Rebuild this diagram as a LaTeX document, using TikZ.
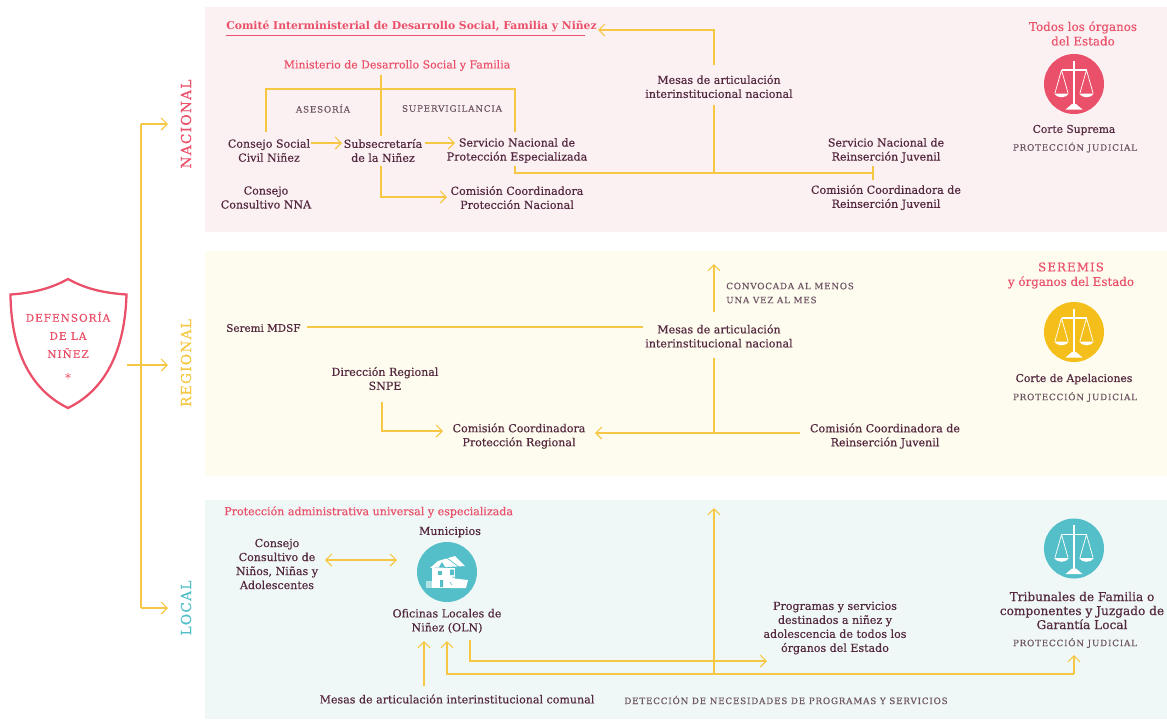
\documentclass[tikz,border=0pt]{standalone}
\usepackage{fontspec}
\usetikzlibrary{arrows.meta}
\setmainfont{DejaVu Serif}
\newfontfamily\bodyfont[FakeBold=0.4]{DejaVu Serif}
\newfontfamily\redfont[FakeBold=0.15]{DejaVu Serif}
\newfontfamily\capsfont[LetterSpace=9,FakeBold=0.15]{DejaVu Serif}
\newfontfamily\headfont[LetterSpace=9,FakeBold=0.6]{DejaVu Serif}
\definecolor{ink}{HTML}{54293F}
\definecolor{capsink}{HTML}{6E5664}
\definecolor{rojo}{HTML}{EA5069}
\definecolor{amarillo}{HTML}{F6C744}
\definecolor{celeste}{HTML}{55BFC9}
\definecolor{panelN}{HTML}{FBF0F2}
\definecolor{panelR}{HTML}{FEFBEF}
\definecolor{panelL}{HTML}{EFF8F7}
\definecolor{dorado}{HTML}{F4BE1B}
\tikzset{
  txt/.style={font=\bodyfont\fontsize{8.3}{10.5}\selectfont,text=ink,align=center,inner sep=2pt},
  rojotxt/.style={font=\redfont\fontsize{8.2}{10.5}\selectfont,text=rojo,align=center,inner sep=0pt},
  rojogrande/.style={rojotxt,font=\redfont\fontsize{8.9}{10.9}\selectfont},
  rojobold/.style={font=\bfseries\fontsize{8.1}{10.5}\selectfont,text=rojo,inner sep=0pt},
  capstxt/.style={font=\capsfont\fontsize{6.6}{10.5}\selectfont,text=capsink,align=center,inner sep=0pt},
  nivel/.style={font=\headfont\fontsize{10.3}{12}\selectfont,rotate=90,inner sep=0pt},
  link/.style={draw=amarillo,line width=0.95pt},
  flecha/.style={link,-{Straight Barb[length=4.5pt,width=9pt,line width=0.9pt]}},
  doble/.style={link,{Straight Barb[length=4.5pt,width=9pt,line width=0.9pt]}-{Straight Barb[length=4.5pt,width=9pt,line width=0.9pt]}},
  disco/.style={circle,minimum size=45pt,inner sep=0pt},
  balanza/.pic={
    \draw[white,line width=1pt] (0,-23.5)--(0,22);
    \fill[white] (-8.5,25.5) -- (8.5,25.5) -- (2,20) -- (-2,20) -- cycle;
    \draw[white,line width=1.3pt] (-12.5,-14) .. controls (-5,-14) and (5,-14) .. (12.5,-14);
    \draw[white,line width=0.55pt] (-12.5,-14)--(-19,9) (-12.5,-14)--(-6,9) (12.5,-14)--(6,9) (12.5,-14)--(19,9);
    \fill[white] (-20,9.5) .. controls (-17,14.5) and (-8,14.5) .. (-5,9.5) -- cycle;
    \fill[white] (5,9.5) .. controls (8,14.5) and (17,14.5) .. (20,9.5) -- cycle;
  },
  casa/.pic={
    \fill[white] (-9,-11) -- (8,-16) -- (18,-6) -- (-17,-4) -- cycle;
    \fill[white] (-15,-4) -- (8,-4) -- (8,16) -- (-15,16) -- cycle;
    \fill[white] (3,6) -- (21,8) -- (19,16) -- (3,16) -- cycle;
    \fill[white,opacity=.55] (-21,9) rectangle (-15,16);
    \fill[celeste] (-9,-1) rectangle (-5,3);
    \fill[celeste] (7,-2.5) rectangle (3,3) (-7,8) rectangle (-4,15);
    \fill[celeste] (-8,-5) -- (-5,-10) -- (-2,-5) -- cycle;
    \draw[celeste,line width=.5pt] (0,-14) -- (12,-5) (5,5) -- (20,7) (3,10) -- (5,13);
  }
}
\begin{document}
\begin{tikzpicture}[x=0.75pt,y=-0.75pt]
\useasboundingbox (0,0) rectangle (1167,719);
% panels
\fill[panelN] (205,7) rectangle (1167,232);
\fill[panelR] (205,251) rectangle (1167,476);
\fill[panelL] (205,500) rectangle (1167,719);
% shield
\draw[rojo,line width=1.7pt,line join=miter,fill=white]
  (68,279) .. controls (50,289) and (32,293) .. (10.5,294.5)
  .. controls (11,345) and (27,388) .. (68,408)
  .. controls (109,388) and (125,345) .. (126.5,294.5)
  .. controls (104,293) and (86,289) .. (68,279) -- cycle;
\node[font=\headfont\fontsize{7.9}{13.6}\selectfont,text=rojo,align=center,inner sep=0pt] (defensoria) at (68,335) {DEFENSORÍA\\DE LA\\NIÑEZ};
\node[font=\fontsize{9}{10}\selectfont,text=rojo,inner sep=0pt] (estrella) at (68,378) {*};
% level labels
\node[nivel,text=rojo] (nacional) at (186,124) {NACIONAL};
\node[nivel,text=amarillo] (regional) at (186,363) {REGIONAL};
\node[nivel,text=celeste] (local) at (186,608) {LOCAL};
\coordinate (tN) at (141,124);
\coordinate (tR) at (141,365);
\coordinate (tL) at (141,608);
\coordinate (sR) at (127,365);
\draw[link] (tN) -- (tL);
\draw[flecha] (tN) -- (168,124);
\draw[flecha] (sR) -- (168,365);
\draw[flecha] (tL) -- (168,608);
% NACIONAL texts
\node[rojobold,anchor=west] (comite) at (226,26) {Comité Interministerial de Desarrollo Social, Familia y Niñez};
\draw[rojo,line width=.7pt] (226,35) -- (585,35);
\node[rojotxt] (ministerio) at (397,65.5) {Ministerio de Desarrollo Social y Familia};
\node[capstxt] (asesoria) at (323,108.5) {ASESORÍA};
\node[capstxt] (superv) at (452,108.5) {SUPERVIGILANCIA};
\node[txt] (cs) at (269,150.5) {Consejo Social\\Civil Niñez};
\node[txt] (sub) at (383,150.5) {Subsecretaría\\de la Niñez};
\node[txt] (snpe) at (517,150.5) {Servicio Nacional de\\Protección Especializada};
\node[txt] (ccn) at (517,197.5) {Comisión Coordinadora\\Protección Nacional};
\node[txt] (ccnna) at (266,197.5) {Consejo\\Consultivo NNA};
\node[txt] (mesaN) at (719,86.5) {Mesas de articulación\\interinstitucional nacional};
\node[txt] (snrj) at (886,150.5) {Servicio Nacional de\\Reinserción Juvenil};
\node[txt] (ccrj) at (886,197.5) {Comisión Coordinadora de\\Reinserción Juvenil};
\node[rojogrande] (todos) at (1083,33.5) {Todos los órganos\\del Estado};
\node[disco,fill=rojo] (discoN) at (1074,84) {};
\pic at (discoN) {balanza};
\node[txt,font=\bodyfont\fontsize{8}{10.5}\selectfont] (suprema) at (1074,130) {Corte Suprema};
\node[capstxt] (pjN) at (1075,147.5) {PROTECCIÓN JUDICIAL};
% NACIONAL connectors
\coordinate (jS) at (381,89);
\coordinate (jL) at (266,132);
\coordinate (jR) at (515,132);
\coordinate (mT) at (714,65);
\coordinate (mB) at (714,105);
\coordinate (bus) at (714,173);
\coordinate (busL) at (515,166);
\coordinate (busR) at (873,173);
\coordinate (subB) at (381,166);
\coordinate (subT) at (381,136);
\coordinate (minB) at (381,75);
\coordinate (csE) at (311,143);
\coordinate (subW) at (342,143);
\coordinate (subE) at (425,143);
\coordinate (snpeW) at (455,143);
\coordinate (ccnW) at (447,197);
\coordinate (comE) at (598,30);
\draw[link] (minB) -- (subT);
\draw[link] (jL) |- (jS) -| (jR);
\draw[flecha] (csE) -- (subW);
\draw[flecha] (subE) -- (snpeW);
\draw[flecha] (subB) |- (ccnW);
\draw[flecha] (mT) |- (comE);
\draw[link] (mB) -- (bus);
\draw[link] (busL) |- (busR);
\draw[link] (873,166) -- (873,180);
% REGIONAL
\node[txt,anchor=west,inner sep=0pt,font=\bodyfont\fontsize{7.8}{10.5}\selectfont] (seremi) at (226,328) {Seremi MDSF};
\node[txt] (mesaR) at (719,336) {Mesas de articulación\\interinstitucional nacional};
\node[capstxt,anchor=west,align=left] (conv) at (726,293) {CONVOCADA AL MENOS\\UNA VEZ AL MES};
\node[txt] (dr) at (385,378.5) {Dirección Regional\\SNPE};
\node[txt] (ccpr) at (519,436) {Comisión Coordinadora\\Protección Regional};
\node[txt] (ccrr) at (885,436) {Comisión Coordinadora de\\Reinserción Juvenil};
\node[rojogrande] (seremis) at (1071,275.5) {\capsfont SEREMIS\\y órganos del Estado};
\node[disco,fill=dorado] (discoR) at (1074,332) {};
\pic at (discoR) {balanza};
\node[txt,font=\bodyfont\fontsize{8.1}{10.5}\selectfont] (apel) at (1074,379) {Corte de Apelaciones};
\node[capstxt] (pjR) at (1075,397) {PROTECCIÓN JUDICIAL};
\coordinate (mrT) at (714,312);
\coordinate (mrB) at (714,358);
\coordinate (mrJ) at (714,433);
\coordinate (drB) at (382,402);
\coordinate (serR) at (307,327);
\coordinate (mrL) at (643,327);
\draw[flecha] (mrT) -- (714,264);
\draw[link] (serR) -- (mrL);
\draw[link] (mrB) -- (mrJ);
\draw[flecha] (800,433) -- (595,433);
\draw[flecha] (drB) |- (443,431);
% LOCAL
\node[rojotxt,anchor=west,font=\bodyfont\fontsize{8.3}{10.5}\selectfont] (prot) at (224,512) {Protección administrativa universal y especializada};
\node[txt] (muni) at (450,532) {Municipios};
\node[txt] (cccn) at (277,564) {Consejo\\Consultivo de\\Niños, Niñas y\\Adolescentes};
\node[disco,fill=celeste] (discoC) at (447,572) {};
\pic at (discoC) {casa};
\node[txt] (oln) at (447,621) {Oficinas Locales de\\Niñez (OLN)};
\node[txt] (prog) at (835,628) {Programas y servicios\\destinados a niñez y\\adolescencia de todos los\\órganos del Estado};
\node[txt,font=\bodyfont\fontsize{9.1}{10.5}\selectfont] (trib) at (1082,610.5) {Tribunales de Familia o\\componentes y Juzgado de\\Garantía Local};
\node[disco,fill=celeste] (discoT) at (1074,548.5) {};
\pic at (discoT) {balanza};
\node[capstxt] (pjL) at (1075,643) {PROTECCIÓN JUDICIAL};
\node[txt] (mesaC) at (457,699) {Mesas de articulación interinstitucional comunal};
\node[capstxt] (detec) at (786,700) {DETECCIÓN DE NECESIDADES DE PROGRAMAS Y SERVICIOS};
\coordinate (a1) at (424,686);
\coordinate (a2) at (424,641);
\coordinate (b1) at (447,641);
\coordinate (c1) at (470,640);
\coordinate (j714) at (714,674);
\draw[doble] (325,560) -- (397,560);
\draw[flecha] (a1) -- (a2);
\draw[flecha] (1074,674) -- (447,674) -- (b1);
\draw[flecha] (1074,674) -- (1074,655);
\draw[flecha] (c1) |- (767,661);
\draw[flecha] (j714) -- (714,508);
\end{tikzpicture}
\end{document}
